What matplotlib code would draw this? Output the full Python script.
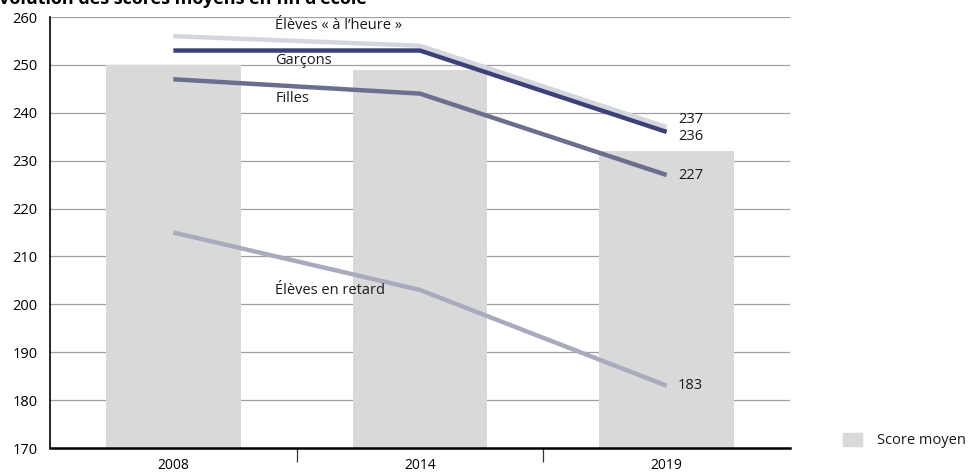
import matplotlib
matplotlib.use('Agg')
import matplotlib.pyplot as plt

# ---- données ----
annees = ['2008', '2014', '2019']
score_moyen = [250, 249, 232]

series = {
    'Élèves « à l\u2019heure »': [256, 254, 237],
    'Garçons': [253, 253, 236],
    'Filles': [247, 244, 227],
    'Élèves en retard': [215, 203, 183],
}
couleurs = {
    'Élèves « à l\u2019heure »': '#d3d6df',
    'Garçons': '#3b4278',
    'Filles': '#6a6e8f',
    'Élèves en retard': '#a8abbe',
}
# position y des étiquettes de séries
label_y = {
    'Élèves « à l\u2019heure »': 258.2,
    'Garçons': 251.0,
    'Filles': 242.9,
    'Élèves en retard': 202.9,
}
# valeurs finales affichées (décalage vertical pour 237/236)
end_y = {
    'Élèves « à l\u2019heure »': 238.6,
    'Garçons': 235.0,
    'Filles': 227,
    'Élèves en retard': 183,
}

plt.rcParams['font.family'] = ['Open Sans', 'DejaVu Sans']

W, H = 973, 473
fig = plt.figure(figsize=(W / 100, H / 100), dpi=100)
ax = fig.add_axes([50 / W, (H - 448) / H, 740 / W, 431 / H])

x = list(range(len(annees)))

for y in range(180, 261, 10):
    ax.axhline(y, color='#a0a0a0', lw=0.9, zorder=0)

ax.bar(x, score_moyen, width=0.545, bottom=0, color='#d9d9d9', zorder=1,
       label='Score moyen')

for nom, vals in series.items():
    ax.plot(x, vals, color=couleurs[nom], lw=3.2, zorder=3,
            solid_capstyle='butt')
    ax.text(0.413, label_y[nom], nom, fontsize=10.5, color='#1a1a1a',
            ha='left', va='center', zorder=4)
    ax.text(2.045, end_y[nom], str(vals[-1]), fontsize=10.5, color='#1a1a1a',
            ha='left', va='center', zorder=4)

ax.set_xlim(-0.5, 2.5)
ax.set_ylim(170, 260)
ax.set_yticks(range(170, 261, 10))
ax.set_xticks(x)
ax.set_xticklabels(annees)
ax.set_xticks([0.5, 1.5], minor=True)
ax.tick_params(axis='x', which='major', length=0, pad=7, labelsize=10)
ax.tick_params(axis='x', which='minor', length=10, width=0.9, color='#333')
ax.tick_params(axis='y', length=0, pad=9, labelsize=10.5)

for s in ['top', 'right']:
    ax.spines[s].set_visible(False)
ax.spines['left'].set_linewidth(1.2)
ax.spines['bottom'].set_linewidth(1.8)
ax.spines['left'].set_zorder(5)
ax.spines['bottom'].set_zorder(5)

# légende
fig.patches.append(plt.Rectangle((843 / W, (H - 446) / H), 19 / W, 13 / H,
                                 transform=fig.transFigure, color='#d9d9d9'))
fig.text(877 / W, (H - 440) / H, 'Score moyen', fontsize=10.5, va='center',
         color='#1a1a1a')

# titre (coupé en haut de l'image, comme dans la source)
fig.text(-11 / W, (H - 4) / H, 'Évolution des scores moyens en fin d\u2019école',
         fontsize=13, fontweight='bold', va='baseline', ha='left')

fig.savefig('out.png', dpi=100)
